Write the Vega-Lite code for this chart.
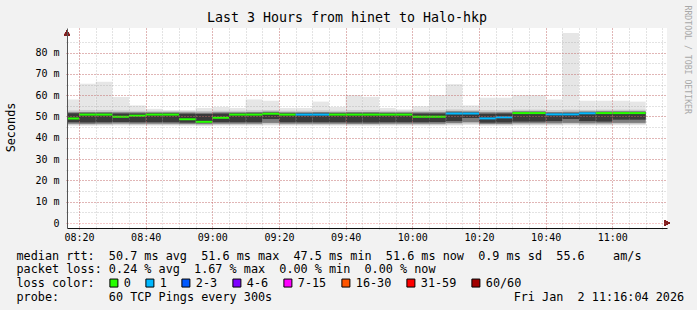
{
  "$schema": "https://vega.github.io/schema/vega-lite/v6.json",
  "width": 600,
  "height": 200,
  "autosize": {"type": "none"},
  "padding": {"left": 67, "top": 28, "right": 30, "bottom": 82},
  "background": "#f2f2f2",
  "title": {
    "text": "Last 3 Hours from hinet to Halo-hkp",
    "anchor": "middle",
    "dx": -20,
    "offset": -30,
    "baseline": "alphabetic",
    "font": "DejaVu Sans Mono",
    "fontSize": 13.3,
    "fontWeight": "normal",
    "color": "#000000"
  },
  "config": {
    "view": {"fill": "#ffffff", "stroke": null},
    "axis": {"labelFont": "DejaVu Sans Mono", "titleFont": "DejaVu Sans Mono", "labelColor": "#000000", "titleColor": "#000000", "titleFontWeight": "normal"}
  },
  "data": {"values": [
    {"t": "2026-01-02T08:15:00", "t2": "2026-01-02T08:20:00", "lo": 45.7, "p05": 46.1, "p10": 46.6, "p25": 47.3, "p75": 51.5, "p90": 52.0, "p95": 52.8, "hi": 58.0, "median": 49.1, "loss": "0"},
    {"t": "2026-01-02T08:20:00", "t2": "2026-01-02T08:25:00", "lo": 45.6, "p05": 46.0, "p10": 46.5, "p25": 47.2, "p75": 51.5, "p90": 52.1, "p95": 53.0, "hi": 65.4, "median": 50.9, "loss": "0"},
    {"t": "2026-01-02T08:25:00", "t2": "2026-01-02T08:30:00", "lo": 45.7, "p05": 46.1, "p10": 46.6, "p25": 47.3, "p75": 51.5, "p90": 52.1, "p95": 53.0, "hi": 66.3, "median": 50.9, "loss": "0"},
    {"t": "2026-01-02T08:30:00", "t2": "2026-01-02T08:35:00", "lo": 45.8, "p05": 46.2, "p10": 46.7, "p25": 47.4, "p75": 51.4, "p90": 52.0, "p95": 52.8, "hi": 59.2, "median": 49.9, "loss": "0"},
    {"t": "2026-01-02T08:35:00", "t2": "2026-01-02T08:40:00", "lo": 45.7, "p05": 46.1, "p10": 46.6, "p25": 47.3, "p75": 51.4, "p90": 52.0, "p95": 52.7, "hi": 55.2, "median": 50.4, "loss": "0"},
    {"t": "2026-01-02T08:40:00", "t2": "2026-01-02T08:45:00", "lo": 45.7, "p05": 46.1, "p10": 46.6, "p25": 47.3, "p75": 51.5, "p90": 52.0, "p95": 52.7, "hi": 53.6, "median": 50.9, "loss": "0"},
    {"t": "2026-01-02T08:45:00", "t2": "2026-01-02T08:50:00", "lo": 45.7, "p05": 46.1, "p10": 46.6, "p25": 47.3, "p75": 51.5, "p90": 52.0, "p95": 52.6, "hi": 53.0, "median": 50.9, "loss": "0"},
    {"t": "2026-01-02T08:50:00", "t2": "2026-01-02T08:55:00", "lo": 45.6, "p05": 46.0, "p10": 46.5, "p25": 47.1, "p75": 51.3, "p90": 51.9, "p95": 52.5, "hi": 53.0, "median": 48.7, "loss": "0"},
    {"t": "2026-01-02T08:55:00", "t2": "2026-01-02T09:00:00", "lo": 45.5, "p05": 45.9, "p10": 46.4, "p25": 47.0, "p75": 51.2, "p90": 51.8, "p95": 52.6, "hi": 54.0, "median": 47.5, "loss": "0"},
    {"t": "2026-01-02T09:00:00", "t2": "2026-01-02T09:05:00", "lo": 45.7, "p05": 46.1, "p10": 46.6, "p25": 47.3, "p75": 51.4, "p90": 52.0, "p95": 52.7, "hi": 54.5, "median": 49.4, "loss": "0"},
    {"t": "2026-01-02T09:05:00", "t2": "2026-01-02T09:10:00", "lo": 45.7, "p05": 46.1, "p10": 46.6, "p25": 47.3, "p75": 51.5, "p90": 52.0, "p95": 52.7, "hi": 54.0, "median": 50.9, "loss": "0"},
    {"t": "2026-01-02T09:10:00", "t2": "2026-01-02T09:15:00", "lo": 45.7, "p05": 46.1, "p10": 46.6, "p25": 47.3, "p75": 51.5, "p90": 52.1, "p95": 52.9, "hi": 58.0, "median": 50.9, "loss": "0"},
    {"t": "2026-01-02T09:15:00", "t2": "2026-01-02T09:20:00", "lo": 45.8, "p05": 46.3, "p10": 47.0, "p25": 48.8, "p75": 51.8, "p90": 52.3, "p95": 53.0, "hi": 57.4, "median": 51.3, "loss": "0"},
    {"t": "2026-01-02T09:20:00", "t2": "2026-01-02T09:25:00", "lo": 45.7, "p05": 46.1, "p10": 46.6, "p25": 47.3, "p75": 51.5, "p90": 52.0, "p95": 52.7, "hi": 54.0, "median": 50.9, "loss": "0"},
    {"t": "2026-01-02T09:25:00", "t2": "2026-01-02T09:30:00", "lo": 45.7, "p05": 46.1, "p10": 46.6, "p25": 47.3, "p75": 51.5, "p90": 52.0, "p95": 52.7, "hi": 54.0, "median": 50.9, "loss": "1"},
    {"t": "2026-01-02T09:30:00", "t2": "2026-01-02T09:35:00", "lo": 45.7, "p05": 46.1, "p10": 46.6, "p25": 47.3, "p75": 51.5, "p90": 52.1, "p95": 52.9, "hi": 57.0, "median": 50.9, "loss": "1"},
    {"t": "2026-01-02T09:35:00", "t2": "2026-01-02T09:40:00", "lo": 45.7, "p05": 46.1, "p10": 46.6, "p25": 47.3, "p75": 51.5, "p90": 52.0, "p95": 52.7, "hi": 54.5, "median": 50.9, "loss": "0"},
    {"t": "2026-01-02T09:40:00", "t2": "2026-01-02T09:45:00", "lo": 45.6, "p05": 46.0, "p10": 46.5, "p25": 47.2, "p75": 51.5, "p90": 52.1, "p95": 53.0, "hi": 60.0, "median": 50.9, "loss": "0"},
    {"t": "2026-01-02T09:45:00", "t2": "2026-01-02T09:50:00", "lo": 45.6, "p05": 46.0, "p10": 46.5, "p25": 47.2, "p75": 51.5, "p90": 52.1, "p95": 53.0, "hi": 59.2, "median": 50.9, "loss": "0"},
    {"t": "2026-01-02T09:50:00", "t2": "2026-01-02T09:55:00", "lo": 45.7, "p05": 46.1, "p10": 46.6, "p25": 47.3, "p75": 51.5, "p90": 52.0, "p95": 52.7, "hi": 54.0, "median": 50.9, "loss": "0"},
    {"t": "2026-01-02T09:55:00", "t2": "2026-01-02T10:00:00", "lo": 45.7, "p05": 46.1, "p10": 46.6, "p25": 47.3, "p75": 51.5, "p90": 52.0, "p95": 52.7, "hi": 53.3, "median": 50.9, "loss": "0"},
    {"t": "2026-01-02T10:00:00", "t2": "2026-01-02T10:05:00", "lo": 45.7, "p05": 46.1, "p10": 46.6, "p25": 47.3, "p75": 51.4, "p90": 52.0, "p95": 52.7, "hi": 54.8, "median": 49.9, "loss": "0"},
    {"t": "2026-01-02T10:05:00", "t2": "2026-01-02T10:10:00", "lo": 45.7, "p05": 46.1, "p10": 46.6, "p25": 47.4, "p75": 51.4, "p90": 52.0, "p95": 52.9, "hi": 60.0, "median": 49.9, "loss": "0"},
    {"t": "2026-01-02T10:10:00", "t2": "2026-01-02T10:15:00", "lo": 45.8, "p05": 46.3, "p10": 46.9, "p25": 47.8, "p75": 51.9, "p90": 52.5, "p95": 53.3, "hi": 65.2, "median": 51.4, "loss": "1"},
    {"t": "2026-01-02T10:15:00", "t2": "2026-01-02T10:20:00", "lo": 46.0, "p05": 46.6, "p10": 47.3, "p25": 49.3, "p75": 51.9, "p90": 52.4, "p95": 53.1, "hi": 55.2, "median": 51.4, "loss": "1"},
    {"t": "2026-01-02T10:20:00", "t2": "2026-01-02T10:25:00", "lo": 45.6, "p05": 46.0, "p10": 46.5, "p25": 47.1, "p75": 51.3, "p90": 52.0, "p95": 52.9, "hi": 58.8, "median": 49.1, "loss": "1"},
    {"t": "2026-01-02T10:25:00", "t2": "2026-01-02T10:30:00", "lo": 45.6, "p05": 46.0, "p10": 46.5, "p25": 47.2, "p75": 51.4, "p90": 52.0, "p95": 52.9, "hi": 58.8, "median": 49.6, "loss": "1"},
    {"t": "2026-01-02T10:30:00", "t2": "2026-01-02T10:35:00", "lo": 45.8, "p05": 46.2, "p10": 46.8, "p25": 47.6, "p75": 52.0, "p90": 52.5, "p95": 53.2, "hi": 60.0, "median": 51.6, "loss": "0"},
    {"t": "2026-01-02T10:35:00", "t2": "2026-01-02T10:40:00", "lo": 45.8, "p05": 46.2, "p10": 46.8, "p25": 47.6, "p75": 52.0, "p90": 52.5, "p95": 53.2, "hi": 60.0, "median": 51.6, "loss": "0"},
    {"t": "2026-01-02T10:40:00", "t2": "2026-01-02T10:45:00", "lo": 45.8, "p05": 46.2, "p10": 46.8, "p25": 47.8, "p75": 51.5, "p90": 52.1, "p95": 53.0, "hi": 58.0, "median": 51.0, "loss": "1"},
    {"t": "2026-01-02T10:45:00", "t2": "2026-01-02T10:50:00", "lo": 45.9, "p05": 46.4, "p10": 47.0, "p25": 48.8, "p75": 51.6, "p90": 52.2, "p95": 53.2, "hi": 89.2, "median": 51.0, "loss": "1"},
    {"t": "2026-01-02T10:50:00", "t2": "2026-01-02T10:55:00", "lo": 45.8, "p05": 46.2, "p10": 46.8, "p25": 47.8, "p75": 51.9, "p90": 52.4, "p95": 53.1, "hi": 57.4, "median": 51.5, "loss": "1"},
    {"t": "2026-01-02T10:55:00", "t2": "2026-01-02T11:00:00", "lo": 45.8, "p05": 46.2, "p10": 46.8, "p25": 47.6, "p75": 52.0, "p90": 52.5, "p95": 53.2, "hi": 57.4, "median": 51.6, "loss": "0"},
    {"t": "2026-01-02T11:00:00", "t2": "2026-01-02T11:05:00", "lo": 45.9, "p05": 46.4, "p10": 47.0, "p25": 48.5, "p75": 52.0, "p90": 52.5, "p95": 53.2, "hi": 57.4, "median": 51.6, "loss": "0"},
    {"t": "2026-01-02T11:05:00", "t2": "2026-01-02T11:10:00", "lo": 45.9, "p05": 46.4, "p10": 47.0, "p25": 48.5, "p75": 52.0, "p90": 52.5, "p95": 53.2, "hi": 57.0, "median": 51.6, "loss": "0"}
  ]},
  "resolve": {"axis": {"x": "independent", "y": "independent"}},
  "layer": [
    {
      "mark": {"type": "rect", "color": "#e6e6e6", "clip": true},
      "encoding": {
        "x": {"field": "t", "type": "temporal",
          "scale": {"domain": [{"year": 2026, "month": 1, "date": 2, "hours": 8, "minutes": 16, "seconds": 24}, {"year": 2026, "month": 1, "date": 2, "hours": 11, "minutes": 16, "seconds": 24}]},
          "axis": {"orient": "bottom", "grid": true, "gridColor": "#8f8f8f", "gridOpacity": 0.5, "gridDash": [1, 2], "gridWidth": 1,
            "ticks": true, "tickSize": 3, "tickColor": "#8f8f8f", "tickOpacity": 0.5, "tickDash": [1, 2],
            "labels": false, "domain": false, "title": null, "tickCount": 36, "zindex": 1}},
        "x2": {"field": "t2"},
        "y": {"field": "lo", "type": "quantitative", "scale": {"domain": [0, 89.2], "nice": false},
          "axis": {"orient": "right", "title": "RRDTOOL / TOBI OETIKER", "labels": false, "ticks": false, "domain": false, "grid": false,
            "titleAngle": 90, "titleX": 19, "titleY": -23, "titleAlign": "left", "titleBaseline": "middle",
            "titleFontSize": 8.2, "titleColor": "#a8a8a8"}},
        "y2": {"field": "hi"}
      }
    },
    {
      "mark": {"type": "rect", "color": "#c8c8c8", "clip": true},
      "encoding": {
        "x": {"field": "t", "type": "temporal", "axis": null},
        "x2": {"field": "t2"},
        "y": {"field": "p05", "type": "quantitative", "scale": {"domain": [0, 89.2], "nice": false},
          "axis": {"orient": "left", "grid": true, "gridColor": "#8f8f8f", "gridOpacity": 0.5, "gridDash": [1, 2], "gridWidth": 1,
            "ticks": true, "tickSize": 3, "tickColor": "#8f8f8f", "tickOpacity": 0.5, "tickDash": [1, 2],
            "labels": false, "domain": false, "title": null,
            "values": [5, 10, 15, 20, 25, 30, 35, 40, 45, 50, 55, 60, 65, 70, 75, 80, 85], "zindex": 1}},
        "y2": {"field": "p95"}
      }
    },
    {
      "mark": {"type": "rect", "color": "#7d7d7d", "clip": true},
      "encoding": {
        "x": {"field": "t", "type": "temporal", "axis": null},
        "x2": {"field": "t2"},
        "y": {"field": "p10", "type": "quantitative", "axis": null},
        "y2": {"field": "p90"}
      }
    },
    {
      "mark": {"type": "rect", "color": "#3a3a3a", "clip": true},
      "encoding": {
        "x": {"field": "t", "type": "temporal", "axis": null},
        "x2": {"field": "t2"},
        "y": {"field": "p25", "type": "quantitative", "axis": null},
        "y2": {"field": "p75"}
      }
    },
    {
      "mark": {"type": "bar", "clip": true},
      "encoding": {
        "x": {"field": "t", "type": "temporal",
          "axis": {"orient": "bottom", "grid": true, "gridColor": "#de4f4f", "gridOpacity": 0.6, "gridDash": [1, 2], "gridWidth": 1,
            "ticks": true, "tickSize": 3, "tickColor": "#de4f4f", "tickOpacity": 0.6, "tickDash": [1, 2],
            "values": [
              {"year": 2026, "month": 1, "date": 2, "hours": 8, "minutes": 20},
              {"year": 2026, "month": 1, "date": 2, "hours": 8, "minutes": 40},
              {"year": 2026, "month": 1, "date": 2, "hours": 9, "minutes": 0},
              {"year": 2026, "month": 1, "date": 2, "hours": 9, "minutes": 20},
              {"year": 2026, "month": 1, "date": 2, "hours": 9, "minutes": 40},
              {"year": 2026, "month": 1, "date": 2, "hours": 10, "minutes": 0},
              {"year": 2026, "month": 1, "date": 2, "hours": 10, "minutes": 20},
              {"year": 2026, "month": 1, "date": 2, "hours": 10, "minutes": 40},
              {"year": 2026, "month": 1, "date": 2, "hours": 11, "minutes": 0}
            ],
            "format": "%H:%M",
            "labelFontSize": 10, "labelPadding": 1, "labelFlush": false, "labelOverlap": false,
            "domain": true, "domainColor": "#111111", "domainWidth": 1,
            "title": [
              "median rtt:\u00a0\u00a050.7 ms avg\u00a0\u00a051.6 ms max\u00a0\u00a047.5 ms min\u00a0\u00a051.6 ms now\u00a0\u00a00.9 ms sd\u00a0\u00a055.6\u00a0\u00a0\u00a0\u00a0am/s",
              "packet loss: 0.24 % avg\u00a0\u00a01.67 % max\u00a0\u00a00.00 % min\u00a0\u00a00.00 % now",
              "loss color:",
              "probe:\u00a0\u00a0\u00a0\u00a0\u00a0\u00a0\u00a060 TCP Pings every 300s\u00a0\u00a0\u00a0\u00a0\u00a0\u00a0\u00a0\u00a0\u00a0\u00a0\u00a0\u00a0\u00a0\u00a0\u00a0\u00a0\u00a0\u00a0\u00a0\u00a0\u00a0\u00a0\u00a0\u00a0\u00a0\u00a0\u00a0\u00a0\u00a0\u00a0\u00a0\u00a0\u00a0\u00a0Fri Jan\u00a0\u00a02 11:16:04 2026"
            ],
            "titleX": -51, "titleY": 22, "titleAlign": "left", "titleBaseline": "top", "titleAnchor": "start",
            "titleFontSize": 11.8, "titleLineHeight": 13.8, "zindex": 2}},
        "x2": {"field": "t2"},
        "y": {"field": "median", "type": "quantitative", "scale": {"domain": [0, 89.2], "nice": false},
          "axis": {"orient": "left", "grid": true, "gridColor": "#de4f4f", "gridOpacity": 0.6, "gridDash": [1, 2], "gridWidth": 1,
            "ticks": true, "tickSize": 3, "tickColor": "#de4f4f", "tickOpacity": 0.6, "tickDash": [1, 2],
            "values": [0, 10, 20, 30, 40, 50, 60, 70, 80],
            "labelExpr": "datum.value == 0 ? '0' : datum.value + ' m'",
            "labelFontSize": 10, "labelPadding": 5,
            "domain": true, "domainColor": "#555555", "domainWidth": 1,
            "title": "Seconds", "titleX": -57, "titleY": 99, "titleAngle": -90, "titleAlign": "center", "titleBaseline": "middle",
            "titleFontSize": 11.8, "zindex": 2}},
        "size": {"value": 2},
        "color": {"field": "loss", "type": "nominal",
          "scale": {"domain": ["0", "1", "2-3", "4-6", "7-15", "16-30", "31-59", "60/60"],
                    "range": ["#26ff00", "#00b8ff", "#0059ff", "#7e00ff", "#ff00ff", "#ff5500", "#ff0000", "#a10000"]},
          "legend": {"orient": "none", "legendX": 41, "legendY": 249, "direction": "horizontal", "title": null,
            "labelFont": "DejaVu Sans Mono", "labelFontSize": 11.8, "labelColor": "#000000",
            "symbolType": "square", "symbolSize": 64, "symbolStrokeColor": "#000000", "symbolStrokeWidth": 1, "symbolOpacity": 1,
            "columnPadding": 12, "labelOffset": 4, "padding": 0}}
      }
    },
    {
      "mark": {"type": "point", "shape": "triangle-right", "filled": true, "size": 36, "color": "#801f1f", "opacity": 1},
      "encoding": {
        "x": {"datum": {"year": 2026, "month": 1, "date": 2, "hours": 11, "minutes": 16, "seconds": 24}, "type": "temporal", "axis": null},
        "y": {"datum": 0, "type": "quantitative", "axis": null}
      }
    },
    {
      "mark": {"type": "point", "shape": "triangle-up", "filled": true, "size": 36, "color": "#801f1f", "opacity": 1},
      "encoding": {
        "x": {"datum": {"year": 2026, "month": 1, "date": 2, "hours": 8, "minutes": 16, "seconds": 24}, "type": "temporal", "axis": null},
        "y": {"datum": 89.2, "type": "quantitative", "axis": null}
      }
    }
  ]
}
